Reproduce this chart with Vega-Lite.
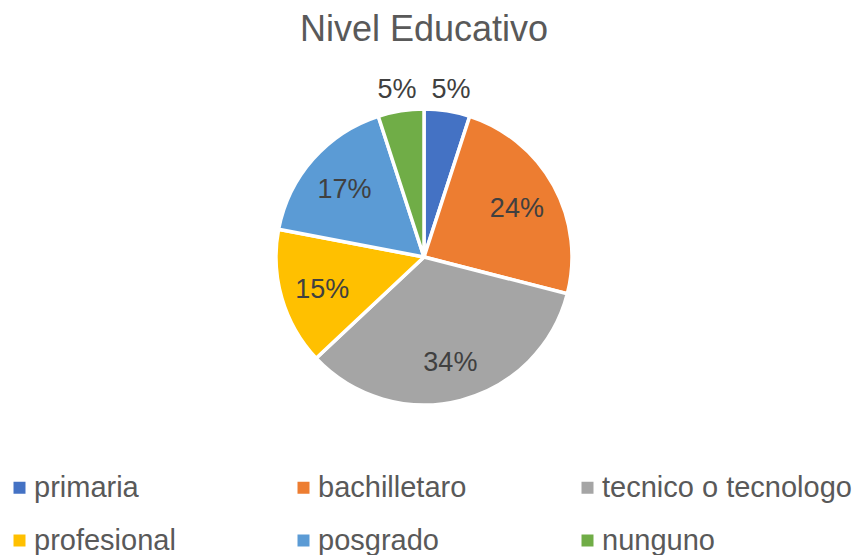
{
  "$schema": "https://vega.github.io/schema/vega-lite/v6.json",
  "width": 848,
  "height": 414,
  "autosize": {"type": "none"},
  "padding": {"left": 0, "top": 50, "right": 5, "bottom": 91},
  "background": "white",
  "title": {
    "text": "Nivel Educativo",
    "font": "Liberation Sans",
    "fontSize": 36,
    "fontWeight": "normal",
    "color": "#595959",
    "anchor": "middle",
    "offset": 1
  },
  "data": {
    "values": [
      {"nivel": "primaria", "pct": 0.05, "orden": 1},
      {"nivel": "bachilletaro", "pct": 0.24, "orden": 2},
      {"nivel": "tecnico o tecnologo", "pct": 0.34, "orden": 3},
      {"nivel": "profesional", "pct": 0.15, "orden": 4},
      {"nivel": "posgrado", "pct": 0.17, "orden": 5},
      {"nivel": "nunguno", "pct": 0.05, "orden": 6}
    ]
  },
  "encoding": {
    "theta": {"field": "pct", "type": "quantitative", "stack": true},
    "order": {"field": "orden", "type": "quantitative"},
    "color": {
      "field": "nivel",
      "type": "nominal",
      "scale": {
        "domain": ["primaria", "bachilletaro", "tecnico o tecnologo", "profesional", "posgrado", "nunguno"],
        "range": ["#4472C4", "#ED7D31", "#A5A5A5", "#FFC000", "#5B9BD5", "#70AD47"]
      },
      "legend": {
        "title": null,
        "orient": "none",
        "legendX": 5,
        "legendY": 423,
        "direction": "horizontal",
        "columns": 3,
        "gridAlign": "all",
        "columnPadding": 5,
        "rowPadding": 23,
        "padding": 0,
        "symbolType": "square",
        "symbolSize": 144,
        "symbolStrokeWidth": 0,
        "symbolOffset": 0,
        "labelOffset": 0,
        "labelFont": "Liberation Sans",
        "labelFontSize": 29,
        "labelColor": "#595959",
        "labelLimit": 400
      }
    }
  },
  "layer": [
    {
      "mark": {"type": "arc", "outerRadius": 148, "stroke": "white", "strokeWidth": 3.5}
    },
    {
      "mark": {
        "type": "text",
        "font": "Liberation Sans",
        "fontSize": 27,
        "color": "#404040",
        "align": "center",
        "baseline": "middle",
        "dy": 3,
        "radius": {"expr": "datum.pct < 0.1 ? 172 : 106"}
      },
      "encoding": {
        "text": {"field": "pct", "type": "quantitative", "format": ".0%"},
        "color": {"value": "#404040"}
      }
    }
  ]
}
